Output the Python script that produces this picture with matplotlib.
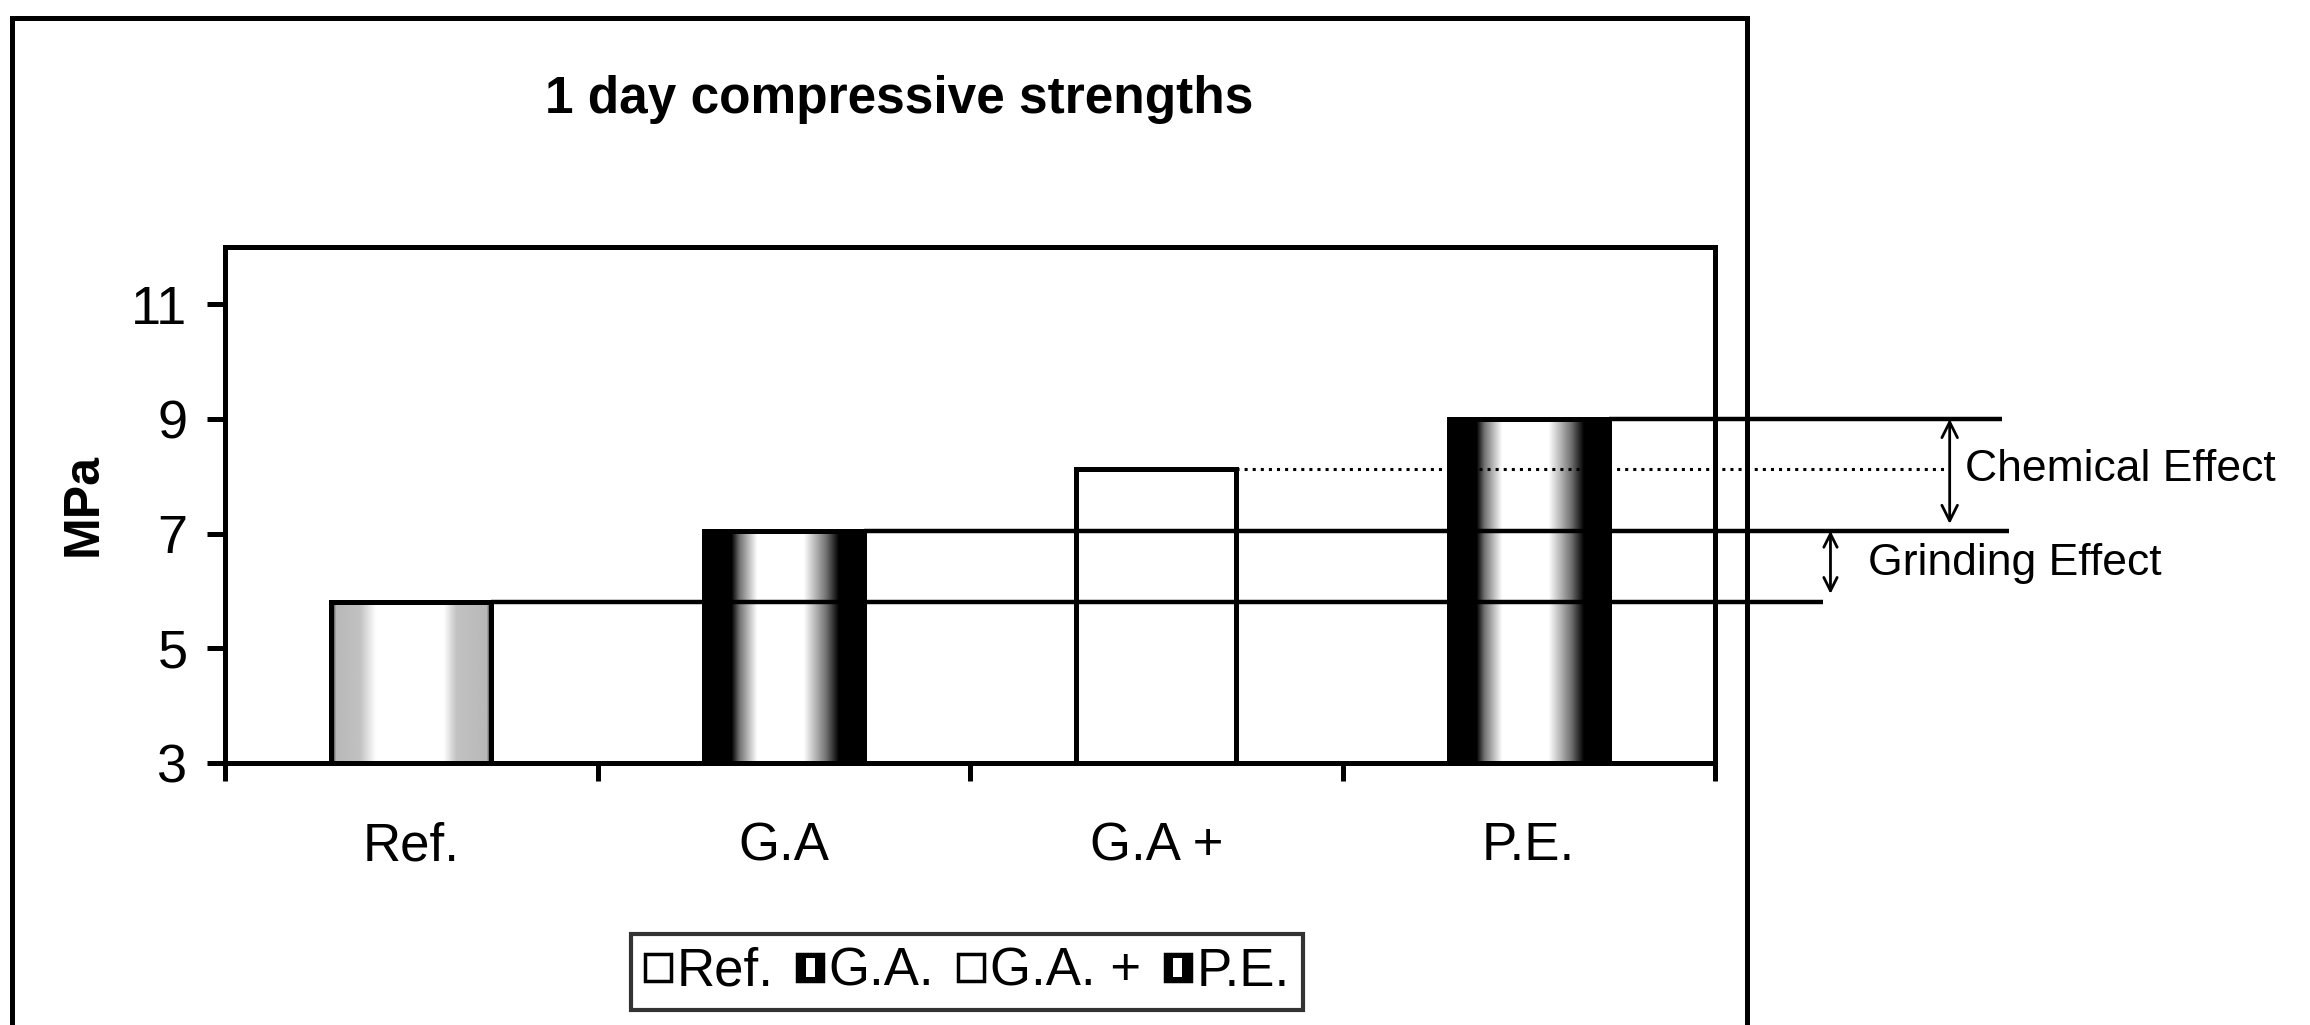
import numpy as np
import matplotlib.pyplot as plt
from matplotlib.patches import Rectangle
from matplotlib.legend_handler import HandlerBase

plt.rcParams['font.family'] = ['Liberation Sans', 'DejaVu Sans']

# data
categories = ['Ref.', 'G.A', 'G.A +', 'P.E.']
legend_labels = ['Ref.', 'G.A.', 'G.A. +', 'P.E.']
strength = [5.8, 7.05, 8.13, 9.0]
yticks = [3, 5, 7, 9, 11]

# shading style per bar: 'light', 'dark' or 'plain'
shading = ['light', 'dark', 'plain', 'dark']

# where the level lines stop (x in category units) and their style
line_end = [3.79, 4.29, 4.13, 4.27]
line_style = ['-', '-', ':', '-']


def shade_profile(kind, n=200):
    t = np.linspace(0, 1, n)
    if kind == 'dark':
        v = np.interp(t, [0, 0.17, 0.22, 0.33, 0.62, 0.76, 0.84, 1],
                      [0, 0, 0.45, 1, 1, 0.45, 0, 0])
    elif kind == 'light':
        v = np.interp(t, [0, 0.03, 0.18, 0.28, 0.70, 0.78, 0.97, 1],
                      [0.0, 0.72, 0.76, 1, 1, 0.76, 0.72, 0.0])
    else:
        v = np.ones_like(t)
    return v


class ShadedHandler(HandlerBase):
    def __init__(self, kind):
        super().__init__()
        self.kind = kind

    def create_artists(self, legend, orig_handle, xdescent, ydescent,
                       width, height, fontsize, trans):
        s = min(width, height * 1.1)
        x0 = -xdescent + (width - s) / 2
        y0 = -ydescent + (height - s) / 2
        arts = []
        if self.kind == 'dark':
            arts.append(Rectangle((x0, y0), s, s, facecolor='black',
                                  edgecolor='black', lw=2.5, transform=trans))
            arts.append(Rectangle((x0 + s * 0.33, y0 + s * 0.15), s * 0.34, s * 0.7,
                                  facecolor='white', edgecolor='none', transform=trans))
        else:
            arts.append(Rectangle((x0, y0), s, s, facecolor='white',
                                  edgecolor='black', lw=2.5, transform=trans))
        return arts


fig = plt.figure(figsize=(23.1, 10.25), dpi=100)
ax = fig.add_axes([225 / 2310, 1 - 763 / 1025, 1490 / 2310, 516 / 1025])

x = np.arange(len(categories))
width = 0.43
bars = ax.bar(x, [v - 3 for v in strength], width, bottom=3,
              facecolor='none', edgecolor='black', linewidth=3.6, zorder=3)

for b, kind in zip(bars, shading):
    prof = shade_profile(kind)
    img = np.tile(prof, (2, 1))
    im = ax.imshow(img, cmap='gray', vmin=0, vmax=1, aspect='auto',
                   extent=(b.get_x(), b.get_x() + b.get_width(), 3, 3 + b.get_height()),
                   interpolation='bilinear', zorder=2)
    im.set_clip_path(b)

# level lines from each bar out to the right margin
for i, (val, xe, ls) in enumerate(zip(strength, line_end, line_style)):
    xs = x[i] + width / 2
    ax.plot([xs, xe], [val, val], color='black', ls=ls,
            lw=3.2 if ls == '-' else 2.2, clip_on=False, zorder=4,
            solid_capstyle='butt')

# effect arrows
chem_x = 4.13
grind_x = 3.81
ax.annotate('', xy=(chem_x, strength[1] + 0.12), xytext=(chem_x, strength[3]),
            arrowprops=dict(arrowstyle='<->', lw=2, color='black',
                            shrinkA=0, shrinkB=0, mutation_scale=28),
            annotation_clip=False)
ax.annotate('', xy=(grind_x, strength[0] + 0.15), xytext=(grind_x, strength[1]),
            arrowprops=dict(arrowstyle='<->', lw=2, color='black',
                            shrinkA=0, shrinkB=0, mutation_scale=24),
            annotation_clip=False)
ax.text(chem_x + 0.04, (strength[1] + strength[3]) / 2 + 0.1, 'Chemical Effect',
        fontsize=32, ha='left', va='center', clip_on=False)
ax.text(grind_x + 0.1, (strength[0] + strength[1]) / 2 + 0.05, 'Grinding Effect',
        fontsize=32, ha='left', va='center', clip_on=False)

ax.set_xlim(-0.5, len(categories) - 0.5)
ax.set_ylim(3, 12)
ax.set_yticks(yticks)
ax.tick_params(axis='y', direction='out', length=13, width=3.6, labelsize=39, pad=14)
ax.set_xticks(np.arange(len(categories) + 1) - 0.5)
ax.set_xticklabels([])
ax.set_xticks(x, minor=True)
ax.set_xticklabels(categories, minor=True)
ax.tick_params(axis='x', which='major', direction='out', length=13, width=3.6)
ax.tick_params(axis='x', which='minor', length=0, labelsize=38, pad=42)
for sp in ax.spines.values():
    sp.set_linewidth(3.6)

fig.text(899 / 2310, 1 - 99 / 1025, '1 day compressive strengths',
         fontsize=37, fontweight='bold', ha='center', va='center')
fig.text(84 / 2310, 1 - 504 / 1025, 'MPa', fontsize=36, fontweight='bold',
         rotation=90, ha='center', va='center')

# outer chart frame, cut off at the bottom of the picture
frame = Rectangle((12 / 2310, -0.05), (1747 - 12) / 2310, 1.05 - 18 / 1025,
                  transform=fig.transFigure, fill=False, edgecolor='black',
                  linewidth=3.6)
fig.add_artist(frame)

handles = [Rectangle((0, 0), 1, 1) for _ in legend_labels]
leg = fig.legend(handles, legend_labels, loc='center',
                 bbox_to_anchor=(967 / 2310, 1 - 972 / 1025), ncol=4,
                 fontsize=38, frameon=True, fancybox=False, handlelength=0.5,
                 handleheight=0.6, handletextpad=0.1, columnspacing=0.45,
                 borderpad=0.25, borderaxespad=0,
                 handler_map={h: ShadedHandler(k) for h, k in zip(handles, shading)})
leg.get_frame().set_edgecolor('black')
leg.get_frame().set_linewidth(3)

fig.savefig('out.png', dpi=100)
